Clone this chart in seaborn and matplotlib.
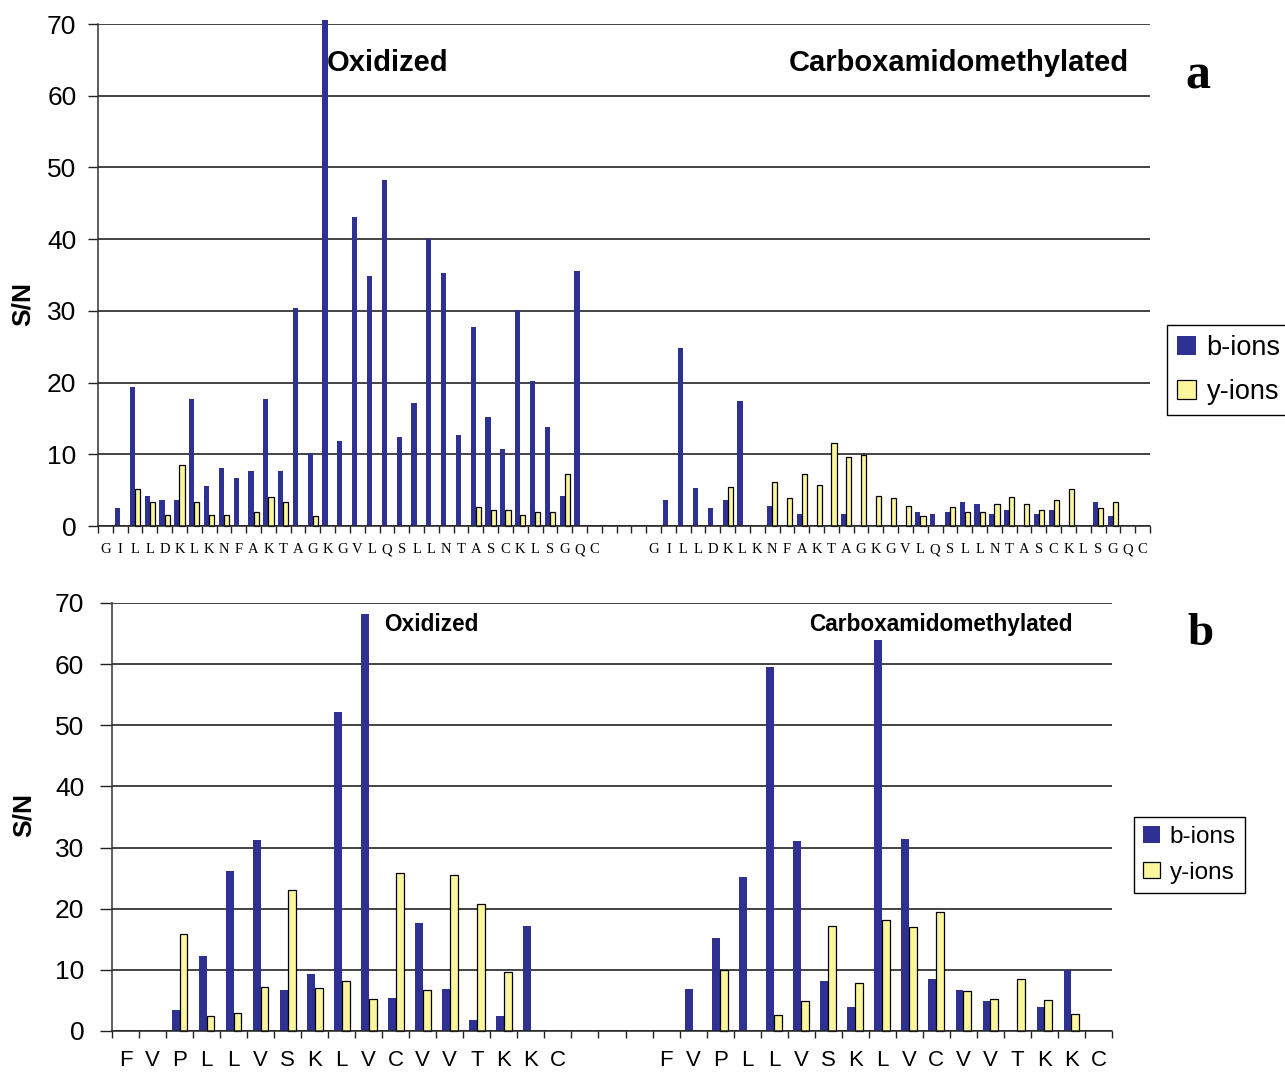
import numpy as np
import pandas as pd
import matplotlib
matplotlib.use("Agg")
import matplotlib.pyplot as plt
import seaborn as sns

# Peptide sequences written under the bars
seq_a = list("GILLDKLKNFAKTAGKGVLQSLLNTASCKLSGQC")
seq_b = list("FVPLLVSKLVCVVTKKC")

# Panel a: S/N of b- and y-ions, oxidized form
b_ox_a = [0, 2.5, 19.4, 4.2, 3.6, 3.6, 17.7, 5.6, 8.1, 6.7, 7.7, 17.7, 7.7, 30.4, 10.2, 70.5, 11.8,
          43.1, 34.9, 48.2, 12.4, 17.2, 40.0, 35.3, 12.7, 27.7, 15.2, 10.7, 30.1, 20.2, 13.8, 4.2, 35.6, 0]
y_ox_a = [0, 0, 5.1, 3.4, 1.6, 8.5, 3.4, 1.6, 1.6, 0, 1.9, 4.1, 3.4, 0, 1.35, 0, 0,
          0, 0, 0, 0, 0, 0, 0, 0, 2.7, 2.2, 2.2, 1.6, 1.9, 1.9, 7.3, 0, 0]
# Panel a: carboxamidomethylated form
b_cam_a = [0, 3.6, 24.8, 5.3, 2.5, 3.6, 17.4, 0, 2.8, 0, 1.7, 0, 0, 1.7, 0, 0, 0,
           0, 1.95, 1.7, 1.95, 3.35, 3.1, 1.7, 2.2, 0, 1.7, 2.2, 0, 0, 3.35, 1.4, 0, 0]
y_cam_a = [0, 0, 0, 0, 0, 5.4, 0, 0, 6.2, 3.9, 7.3, 5.7, 11.6, 9.6, 9.9, 4.2, 3.9,
           2.8, 1.4, 0, 2.7, 1.9, 1.9, 3.1, 4.1, 3.1, 2.2, 3.6, 5.1, 0, 2.5, 3.4, 0, 0]

# Panel b: oxidized form
b_ox_b = [0, 0, 3.4, 12.3, 26.2, 31.2, 6.7, 9.3, 52.2, 68.2, 5.4, 17.7, 6.9, 1.8, 2.45, 17.2, 0]
y_ox_b = [0, 0, 15.8, 2.5, 2.9, 7.2, 23.0, 7.1, 8.1, 5.2, 25.8, 6.65, 25.5, 20.7, 9.6, 0, 0]
# Panel b: carboxamidomethylated form
b_cam_b = [0, 6.9, 15.2, 25.2, 59.6, 31.1, 8.2, 3.9, 63.9, 31.4, 8.5, 6.7, 4.9, 0, 3.9, 10.0, 0]
y_cam_b = [0, 0, 9.9, 0, 2.55, 4.85, 17.1, 7.8, 18.1, 17.0, 19.4, 6.5, 5.2, 8.45, 5.0, 2.7, 0]

ion_levels = ["b-ions", "y-ions"]
ion_colors = {"b-ions": "#2E3192", "y-ions": "#FBF69C"}
GAP = 3

SANS = ["Liberation Sans", "DejaVu Sans"]
SERIF = ["Liberation Serif", "DejaVu Serif"]


def long_table(seq, groups, gap):
    """Stack the two modification groups side by side, separated by empty slots."""
    n = len(seq)
    rows = []
    for g, (bvals, yvals) in enumerate(groups):
        off = g * (n + gap)
        for i in range(n):
            for ion, v in zip(ion_levels, (bvals[i], yvals[i])):
                if v > 0:
                    rows.append({"pos": off + i, "ion": ion, "sn": v})
    total = 2 * n + gap
    labels = seq + [""] * gap + seq
    return pd.DataFrame(rows), total, labels


def draw_panel(ax, seq, groups, width, xfont, xsize, xpad, tick_len, ylab_pad):
    df, total, labels = long_table(seq, groups, GAP)
    sns.barplot(data=df, x="pos", y="sn", hue="ion", order=list(range(total)),
                hue_order=ion_levels, palette=ion_colors, saturation=1,
                width=width, errorbar=None, legend=False, ax=ax)
    for bar in ax.containers[0]:
        bar.set_edgecolor("none")
        bar.set_clip_on(False)
    for bar in ax.containers[1]:
        bar.set_edgecolor("black")
        bar.set_linewidth(0.9)
        bar.set_clip_on(False)

    ax.set_xlim(-0.5, total - 0.5)
    ax.set_ylim(0, 70)
    ax.set_yticks(range(0, 71, 10))
    ax.yaxis.grid(True, color="#111111", linewidth=1.1)
    ax.set_axisbelow(True)

    ax.set_xticks(range(total))
    ax.set_xticklabels(labels, family=xfont, fontsize=xsize)
    ax.set_xticks(np.arange(-0.5, total, 1.0), minor=True)
    ax.tick_params(axis="x", which="major", length=0, pad=xpad)
    ax.tick_params(axis="x", which="minor", length=5, width=1.0, color="#222222", direction="out")
    ax.tick_params(axis="y", length=tick_len, width=1.0, color="#222222", pad=ylab_pad,
                   labelsize=19)
    for t in ax.get_yticklabels():
        t.set_family(SANS)

    for side in ("top", "right"):
        ax.spines[side].set_visible(False)
    ax.spines["left"].set_color("#333333")
    ax.spines["bottom"].set_color("#222222")
    ax.spines["left"].set_linewidth(1.1)
    ax.spines["bottom"].set_linewidth(1.1)
    ax.set_xlabel("")
    ax.set_ylabel("S/N", fontsize=19, fontweight="bold", family=SANS)


fig = plt.figure(figsize=(12.85, 10.73), dpi=100)
W, H = 1285, 1073

ax_a = fig.add_axes([98 / W, 1 - 526 / H, (1150 - 98) / W, (526 - 24) / H])
draw_panel(ax_a, seq_a, [(b_ox_a, y_ox_a), (b_cam_a, y_cam_a)], width=0.7,
           xfont=SERIF, xsize=10.5, xpad=12.5, tick_len=7, ylab_pad=8.5)
ax_a.yaxis.set_label_coords(-0.06, 0.442)

ax_b = fig.add_axes([112 / W, 1 - 1031 / H, 1000 / W, (1031 - 603) / H])
draw_panel(ax_b, seq_b, [(b_ox_b, y_ox_b), (b_cam_b, y_cam_b)], width=0.58,
           xfont=SANS, xsize=16, xpad=13.5, tick_len=9, ylab_pad=11)
ax_b.yaxis.set_label_coords(-0.076, 0.505)

# Group titles
ax_a.text(0.2177, 0.922, "Oxidized", transform=ax_a.transAxes, ha="left", va="center",
          fontsize=21, fontweight="bold", family=SANS)
ax_a.text(0.657, 0.922, "Carboxamidomethylated", transform=ax_a.transAxes, ha="left",
          va="center", fontsize=21, fontweight="bold", family=SANS)
ax_b.text(0.272, 0.949, "Oxidized", transform=ax_b.transAxes, ha="left", va="center",
          fontsize=16.3, fontweight="bold", family=SANS)
ax_b.text(0.697, 0.949, "Carboxamidomethylated", transform=ax_b.transAxes, ha="left",
          va="center", fontsize=16.3, fontweight="bold", family=SANS)

# Panel letters
fig.text(1198 / W, 1 - 76 / H, "a", ha="center", va="center", fontsize=36,
         fontweight="bold", family=SERIF)
fig.text(1200 / W, 1 - 634 / H, "b", ha="center", va="center", fontsize=34,
         fontweight="bold", family=SERIF)

# Legends
for ax, anchor, size, spacing in ((ax_a, (1167 / W, 1 - 325 / H), 19.5, 0.66),
                                  (ax_b, (1134 / W, 1 - 817 / H), 17.5, 0.55)):
    leg = fig.legend(handles=[ax.containers[0][0], ax.containers[1][0]], labels=ion_levels,
                     loc="upper left", bbox_to_anchor=anchor, fancybox=False,
                     edgecolor="black", framealpha=1, handlelength=0.68,
                     handleheight=0.68, handletextpad=0.4, labelspacing=spacing,
                     borderpad=0.38, borderaxespad=0,
                     prop={"family": SANS, "size": size})
    leg.get_frame().set_linewidth(1.0)

fig.savefig("out.png", dpi=100)
